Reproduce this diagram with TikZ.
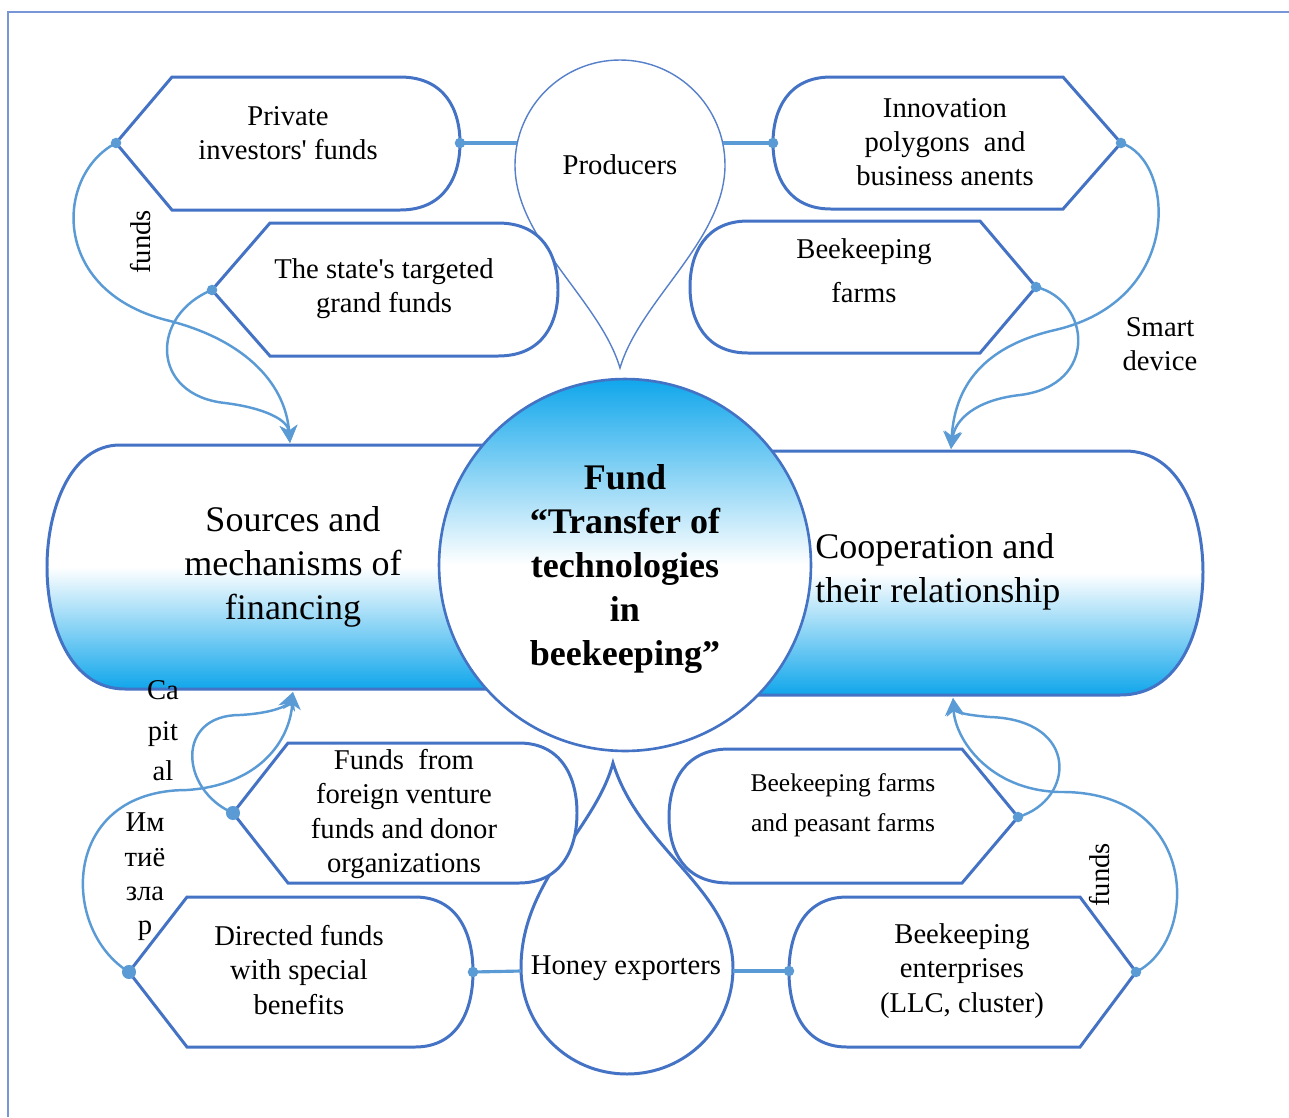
\documentclass[tikz,border=0pt]{standalone}
\usepackage{fontspec}
\setmainfont{Liberation Serif}
\usetikzlibrary{arrows.meta}
\definecolor{lineblue}{RGB}{68,114,196}
\definecolor{conblue}{RGB}{91,155,213}
\definecolor{fillblue}{RGB}{16,166,235}
\definecolor{framec}{RGB}{120,150,215}
\begin{document}
\begin{tikzpicture}[x=0.02cm,y=-0.02cm,
 boxshape/.style={draw=lineblue, line width=1.7pt, fill=white},
 thinshape/.style={draw=lineblue!90, line width=0.8pt, fill=white},
 conn/.style={draw=conblue, line width=1.4pt, -{Stealth[length=10pt,width=10pt,inset=3pt]}},
 link/.style={draw=conblue, line width=1.8pt},
 txt/.style={font=\fontsize{16.3}{19.5}\selectfont, align=center, inner sep=0pt},
 bigtxt/.style={font=\fontsize{20.5}{25}\selectfont, align=center, inner sep=0pt}]
\useasboundingbox (0,0) rectangle (1289,1117);
\fill[white] (0,0) rectangle (1289,1117);
% frame
\draw[framec, line width=1.2pt] (8,1117) -- (8,12) -- (1289,12);

% banners
\draw[lineblue, line width=1.7pt, top color=white, bottom color=fillblue, middle color=white]
  (600,445) -- (120,445) .. controls (70,445) and (47,510) .. (47,567)
  .. controls (47,625) and (70,689) .. (125,689) -- (600,689) -- cycle;
\draw[lineblue, line width=1.7pt, top color=white, bottom color=fillblue, middle color=white]
  (650,451) -- (1125,451) .. controls (1180,451) and (1203,515) .. (1203,572)
  .. controls (1203,630) and (1180,695) .. (1120,695) -- (650,695) -- cycle;
\node[bigtxt] (src) at (293,567) {Sources and\\mechanisms of\\financing};
\node[bigtxt, anchor=west, align=left] (coop) at (815,572) {Cooperation and\\their relationship};

% hub
\node[circle, draw=lineblue, line width=1.5pt, minimum size=7.44cm, inner sep=0pt,
      top color=fillblue, bottom color=white, middle color=white,
      font=\bfseries\fontsize{20.5}{25}\selectfont, align=center] (hub) at (625,565) {};
\node[font=\bfseries\fontsize{20.5}{25}\selectfont, align=center, inner sep=0pt] (hubtxt) at (625,569)
  {Fund\\“Transfer of\\technologies\\in\\beekeeping”};

% producers drop
\draw[thinshape] (620,368) .. controls (600,300) and (515,240) .. (515,165)
  .. controls (515,107) and (562,60) .. (620,60) .. controls (678,60) and (725,107) .. (725,165)
  .. controls (725,240) and (640,300) .. (620,368) -- cycle;
\node[txt] (prod) at (620,165) {Producers};

% honey drop
\draw[boxshape] (613,763) .. controls (595,830) and (521,880) .. (521,968)
  .. controls (521,1027) and (568,1074) .. (627,1074) .. controls (686,1074) and (733,1027) .. (733,968)
  .. controls (733,890) and (640,850) .. (613,763) -- cycle;
\node[txt] (honey) at (626,968) {Honey exporters};

% boxes
\draw[boxshape] (116,143) -- (172,77) -- (400,77) .. controls (445,77) and (460,110) .. (460,143)
  .. controls (460,176) and (445,210) .. (400,210) -- (172,210) -- cycle;
\node[txt] (t-pi) at (288,133) {Private\\investors\textquotesingle\ funds};

\draw[boxshape] (212,290) -- (270,223) -- (498,223) .. controls (543,223) and (558,256) .. (558,290)
  .. controls (558,323) and (543,356) .. (498,356) -- (270,356) -- cycle;
\node[txt] (t-st) at (384,289) {The state\textquotesingle s targeted\\grand funds};

\draw[boxshape] (1121,143) -- (1063,77) -- (831,77) .. controls (788,77) and (773,110) .. (773,143)
  .. controls (773,176) and (788,209) .. (831,209) -- (1063,209) -- cycle;
\node[txt] (t-in) at (945,142) {Innovation\\polygons~ and\\business anents};

\draw[boxshape] (1036,287) -- (980,221) -- (748,221) .. controls (705,221) and (690,254) .. (690,287)
  .. controls (690,320) and (705,353) .. (748,353) -- (980,353) -- cycle;
\node[txt, font=\fontsize{16.3}{25}\selectfont] (t-bf) at (864,271) {Beekeeping\\farms};

\draw[boxshape] (233,813) -- (288,743) -- (519,743) .. controls (562,743) and (577,778) .. (577,813)
  .. controls (577,848) and (562,883) .. (519,883) -- (288,883) -- cycle;
\node[txt] (t-fv) at (404,814) {Funds~ from\\foreign venture\\funds and donor\\organizations};

\draw[boxshape] (129,972) -- (187,897) -- (415,897) .. controls (458,897) and (473,934) .. (473,972)
  .. controls (473,1010) and (458,1047) .. (415,1047) -- (187,1047) -- cycle;
\node[txt] (t-df) at (299,970) {Directed funds\\with special\\benefits};

\draw[boxshape] (1018,817) -- (962,749) -- (729,749) .. controls (684,749) and (669,783) .. (669,817)
  .. controls (669,851) and (684,883) .. (729,883) -- (962,883) -- cycle;
\node[txt, font=\fontsize{14.5}{22.5}\selectfont] (t-bp) at (843,805) {Beekeeping farms\\and peasant farms};

\draw[boxshape] (1136,972) -- (1080,897) -- (847,897) .. controls (804,897) and (789,934) .. (789,972)
  .. controls (789,1010) and (804,1047) .. (847,1047) -- (1080,1047) -- cycle;
\node[txt] (t-be) at (962,971) {Beekeeping\\enterprises\\(LLC, cluster)};

% anchor points
\coordinate (pi-w) at (116,143); \coordinate (pi-e) at (460,143);
\coordinate (st-w) at (212,290);
\coordinate (in-w) at (773,143); \coordinate (in-e) at (1121,143);
\coordinate (bf-e) at (1036,287);
\coordinate (fv-w) at (233,813);
\coordinate (df-w) at (129,972); \coordinate (df-e) at (473,972);
\coordinate (bp-e) at (1018,817);
\coordinate (be-w) at (789,971); \coordinate (be-e) at (1136,972);
\coordinate (pr-w) at (517,143); \coordinate (pr-e) at (723,143);
\coordinate (hx-w) at (521,971); \coordinate (hx-e) at (733,971);
\coordinate (arr-tl) at (290,443); \coordinate (arr-tr) at (951,449);
\coordinate (arr-bl) at (293,692); \coordinate (arr-br) at (953,698);

% links
\draw[link] (pi-e) -- (pr-w);
\draw[link] (pr-e) -- (in-w);
\draw[link] (df-e) -- (hx-w);
\draw[link] (hx-e) -- (be-w);

% curved connectors
\draw[conn] (pi-w) .. controls (55,175) and (50,290) .. (166,320) .. controls (240,338) and (285,380) .. (arr-tl);
\draw[conn] (st-w) .. controls (150,315) and (150,395) .. (225,403) .. controls (265,408) and (288,420) .. (arr-tl);
\draw[conn] (in-e) .. controls (1175,160) and (1185,300) .. (1055,330) .. controls (990,345) and (955,380) .. (arr-tr);
\draw[conn] (bf-e) .. controls (1090,300) and (1100,385) .. (1020,395) .. controls (975,400) and (955,420) .. (arr-tr);
\draw[conn] (fv-w) .. controls (180,790) and (175,715) .. (240,715) .. controls (275,713) and (288,705) .. (arr-bl);
\draw[conn] (df-w) .. controls (60,930) and (60,790) .. (187,790) .. controls (260,785) and (290,740) .. (arr-bl);
\draw[conn] (bp-e) .. controls (1075,800) and (1080,720) .. (990,717) .. controls (965,715) and (955,712) .. (arr-br);
\draw[conn] (be-e) .. controls (1200,940) and (1200,790) .. (1059,792) .. controls (990,790) and (955,740) .. (arr-br);

% dots
\foreach \p in {pi-w,pi-e,st-w,in-w,in-e,bf-e,df-e,be-w,bp-e,be-e}
  \fill[conblue] (\p) circle[radius=3pt];
\foreach \p in {fv-w,df-w}
  \fill[conblue] (\p) circle[radius=4pt];

% labels
\node[txt, rotate=90] (lbl-f1) at (141,242) {funds};
\node[txt] (lbl-sd) at (1160,344) {Smart\\device};
\node[txt, font=\fontsize{16.3}{23}\selectfont] (lbl-cap) at (163,731) {Ca\\pit\\al};
\node[txt] (lbl-cyr) at (145,877) {Им\\тиё\\зла\\р};
\node[txt, rotate=90] (lbl-f2) at (1100,875) {funds};
\end{tikzpicture}
\end{document}
